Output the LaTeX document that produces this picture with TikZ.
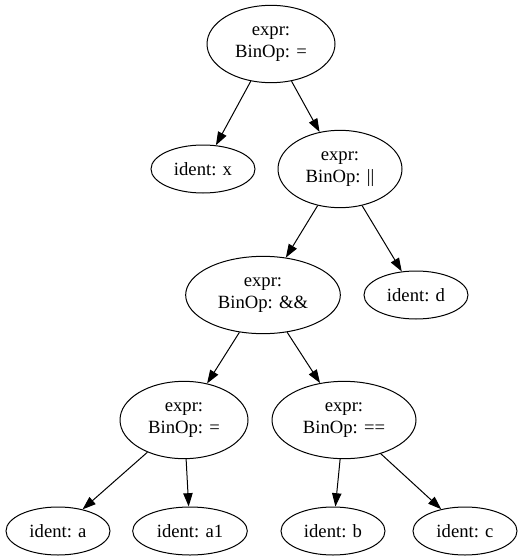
\documentclass[tikz,border=0pt]{standalone}
\usepackage{fontspec}
\setmainfont{Liberation Serif}
\usepackage{tikz}
\usetikzlibrary{shapes.geometric,arrows.meta}
\tikzset{%
    every tnode/.style={
            ellipse,
            draw,
            line width=0.75pt,
            inner sep=0pt,
            align=center,
            font=\fontsize{14}{16}\selectfont
        },
    expr node/.style={
            minimum height=58pt
        },
    ident node/.style={
            minimum height=36pt,
            minimum width=78pt
        },
}

\begin{document}
\begin{tikzpicture}[x=0.75pt, y=-0.75pt, >={Triangle[length=10pt,width=7pt]}]

        \useasboundingbox (0,0) rectangle (521,560);

        \foreach \n/\px/\py/\w/\op in {root/271/44/96/=, or/340/169/93/||, and/263/295/116/\&\&, assign/184/420/96/=, eq/344/420/108/==}
        \node [every tnode, expr node, minimum width=\w pt] (\n) at (\px,\py) {expr:\\BinOp: \op};

        \foreach \n/\px/\py/\l in {identx/203/169/x, identd/416/295/d, a/58/531/a, b/333/531/b, c/465/531/c}
        \node [every tnode, ident node] (\n) at (\px,\py) {ident: \l};

        \node [every tnode, ident node, minimum width=86pt] (a1) at (190,531) {ident: a1};

        \foreach \p/\c in {root/identx, root/or, or/and, or/identd, and/assign, and/eq, assign/a, assign/a1, eq/b, eq/c}
        \draw [->, line width=0.75pt] (\p) -- (\c);

    \end{tikzpicture}
\end{document}
